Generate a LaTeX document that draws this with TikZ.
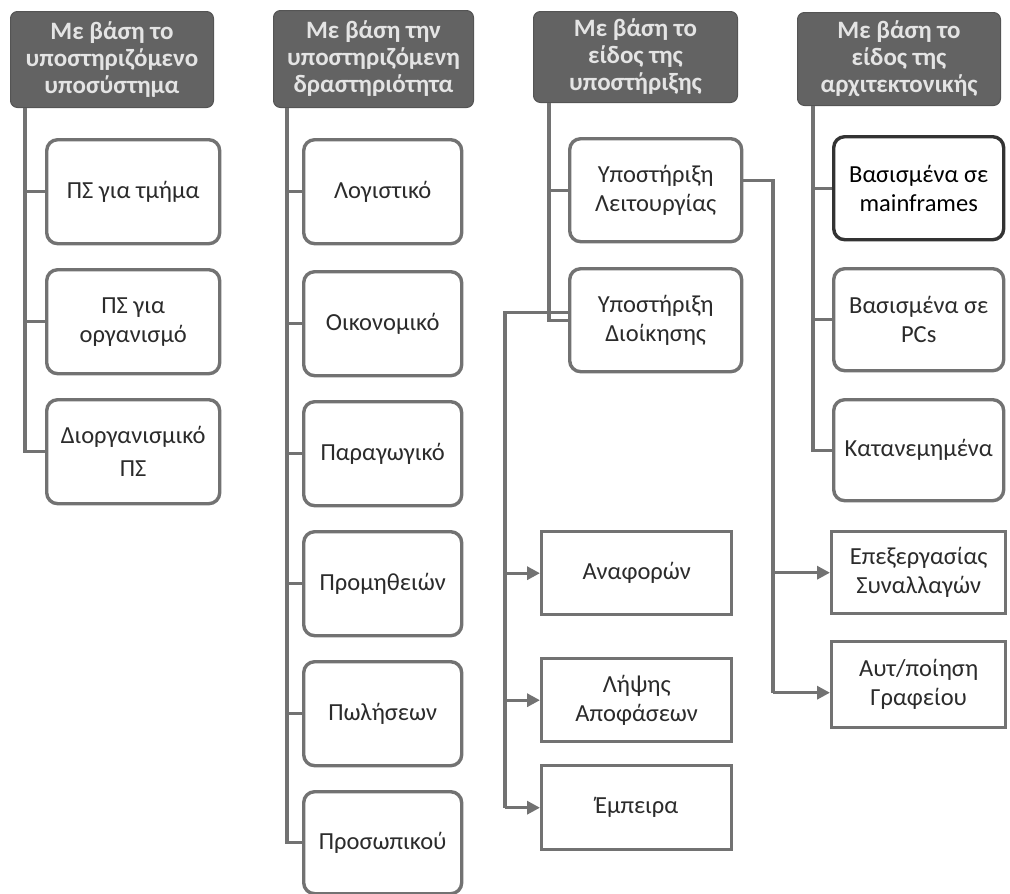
\documentclass[tikz,border=0pt]{standalone}
\usepackage{fontspec}
\setmainfont{Carlito}
\usetikzlibrary{arrows.meta}
\definecolor{hdrfill}{HTML}{636363}
\definecolor{hdrtext}{HTML}{E4E4E4}
\definecolor{edge}{HTML}{727272}
\definecolor{ink}{HTML}{2B2B2B}

\begin{document}
\begin{tikzpicture}[x=1pt,y=-1pt,
  header/.style={fill=hdrfill, draw=hdrfill!85!black, line width=1pt,
    rounded corners=7pt, text=hdrtext, align=center, inner sep=0pt,
    font=\fontsize{25}{27}\selectfont\bfseries, anchor=north west},
  item/.style={draw=edge, line width=3.4pt, rounded corners=11pt, fill=white,
    text=ink, align=center, inner sep=0pt, anchor=north west,
    font=\fontsize{24.5}{29}\selectfont},
  sub/.style={item, rounded corners=0pt},
  link/.style={draw=edge, line width=3.4pt},
  arr/.style={link, -{Triangle[length=13pt,width=13pt]}},
]
\useasboundingbox (0,0) rectangle (1010,894);

% ---- column headings ----
\node[header, minimum width=203pt, minimum height=96pt] (h1) at (10,11)
  {Με βάση το\\υποστηριζόμενο\\υποσύστημα};
\node[header, minimum width=200pt, minimum height=97pt] (h2) at (273,10)
  {Με βάση την\\υποστηριζόμενη\\δραστηριότητα};
\node[header, minimum width=204pt, minimum height=91pt] (h3) at (533,11)
  {Με βάση το\\είδος της\\υποστήριξης};
\node[header, minimum width=203pt, minimum height=93pt] (h4) at (797,12)
  {Με βάση το\\είδος της\\αρχιτεκτονικής};

% ---- by supported subsystem ----
\node[item, minimum width=173pt, minimum height=104pt] (a1) at (45,138) {ΠΣ για τμήμα};
\node[item, minimum width=173pt, minimum height=104pt] (a2) at (45,268) {ΠΣ για\\οργανισμό};
\node[item, minimum width=173pt, minimum height=104pt] (a3) at (45,398) {Διοργανισμικό\\[4pt]ΠΣ};

% ---- by supported activity ----
\node[item, minimum width=158pt, minimum height=104pt] (c1) at (302,138) {Λογιστικό};
\node[item, minimum width=158pt, minimum height=104pt] (c2) at (302,270) {Οικονομικό};
\node[item, minimum width=158pt, minimum height=104pt] (c3) at (302,400) {Παραγωγικό};
\node[item, minimum width=158pt, minimum height=104pt] (c4) at (302,530) {Προμηθειών};
\node[item, minimum width=158pt, minimum height=104pt] (c5) at (302,660) {Πωλήσεων};
\node[item, minimum width=158pt, minimum height=102pt] (c6) at (302,790) {Προσωπικού};

% ---- by kind of support ----
\node[item, minimum width=172pt, minimum height=103pt] (b1) at (568,137) {Υποστήριξη\\Λειτουργίας};
\node[item, minimum width=172pt, minimum height=103pt] (b2) at (568,267) {Υποστήριξη\\Διοίκησης};

\node[sub, minimum width=190pt, minimum height=83pt] (d1) at (540,530) {Αναφορών};
\node[sub, minimum width=190pt, minimum height=83pt] (d2) at (540,657) {Λήψης\\Αποφάσεων};
\node[sub, minimum width=190pt, minimum height=84pt] (d3) at (540,764) {Έμπειρα};

\node[sub, minimum width=174pt, minimum height=82pt] (e1) at (830,530) {Επεξεργασίας\\Συναλλαγών};
\node[sub, minimum width=174pt, minimum height=86pt] (e2) at (830,640) {Αυτ/ποίηση\\Γραφείου};

% ---- by kind of architecture ----
\node[item, draw=black!80, text=black, minimum width=170pt, minimum height=103pt] (f1) at (832,135)
  {Βασισμένα σε\\mainframes};
\node[item, minimum width=170pt, minimum height=102pt] (f2) at (832,267) {Βασισμένα σε\\PCs};
\node[item, minimum width=170pt, minimum height=101pt] (f3) at (832,398) {Κατανεμημένα};

% ---- spines below the headings ----
\coordinate (s1) at ([xshift=15pt]h1.south west);
\coordinate (s2) at ([xshift=14pt]h2.south west);
\coordinate (s3) at ([xshift=16pt]h3.south west);
\coordinate (s4) at ([xshift=16pt]h4.south west);

\draw[link] (s1) |- (a3.west);
\draw[link] (a1.west) -- (a1.west -| s1);
\draw[link] (a2.west) -- (a2.west -| s1);

\draw[link] (s2) |- (c6.west);
\foreach \n in {c1,c2,c3,c4,c5}
  \draw[link] (\n.west) -- (\n.west -| s2);

\draw[link] (s3) |- (b2.west);
\draw[link] (b1.west) -- (b1.west -| s3);

\draw[link] (s4) |- (f3.west);
\draw[link] (f1.west) -- (f1.west -| s4);
\draw[link] (f2.west) -- (f2.west -| s4);

% ---- management support: reports, decisions, expert ----
\coordinate (dv) at (505,0);
\draw[link] ([yshift=8pt]b2.west) -| (dv |- d3.west);
\draw[arr] (dv |- d1.west) -- (d1.west);
\draw[arr] (dv |- d2.west) -- (d2.west);
\draw[arr] (dv |- d3.west) -- (d3.west);

% ---- operational support: transactions, office automation ----
\coordinate (ev) at (773,0);
\draw[link] ([yshift=10pt]b1.east) -| ([yshift=-8pt]ev |- e2.west);
\draw[arr] (ev |- e1.west) -- (e1.west);
\draw[arr] ([yshift=-8pt]ev |- e2.west) -- ([yshift=-8pt]e2.west);
\end{tikzpicture}
\end{document}
